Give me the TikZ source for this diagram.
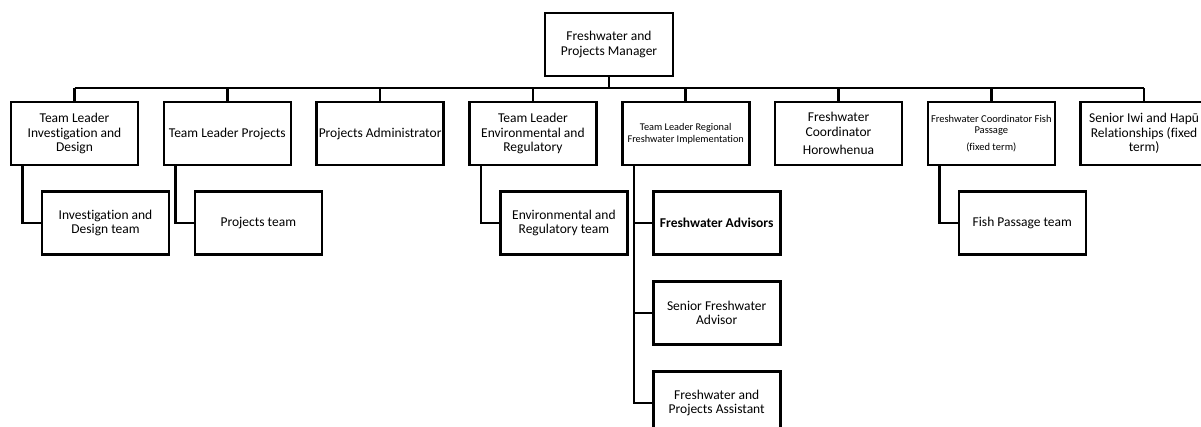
\documentclass[tikz,border=0pt]{standalone}
\usepackage{fontspec}
\setmainfont{Carlito}[Ligatures=CommonOff]
\usetikzlibrary{calc,positioning}

\begin{document}
\begin{tikzpicture}[x=1pt,y=-1pt,
  box/.style={draw,line width=2.6pt,rectangle,align=center,inner sep=0pt,minimum width=127pt,minimum height=63pt,font=\fontsize{13.5}{14.5}\selectfont},
  small/.style={font=\fontsize{10.3}{12.3}\selectfont},
  link/.style={line width=2.6pt}]
  \useasboundingbox (0,0) rectangle (1201,426);
  \clip (0,0) rectangle (1201,426);
  \node[box,minimum width=128pt] (m) at (609,44.5) {Freshwater and\\Projects Manager};
  \coordinate (bus) at (0,88);

  \node[box] (t1) at (74.5,133.5) {Team Leader\\Investigation and\\Design};
  \node[box] (t2) at (227.3,133.5) {Team Leader Projects};
  \node[box] (t3) at (380.1,133.5) {Projects Administrator};
  \node[box] (t4) at (532.9,133.5) {Team Leader\\Environmental and\\Regulatory};
  \node[box,small] (t5) at (685.7,133.5) {Team Leader Regional\\Freshwater Implementation};
  \node[box] (t6) at (838.5,133.5) {Freshwater\\Coordinator\\[4pt]Horowhenua};
  \node[box,font=\fontsize{10.5}{11.5}\selectfont] (t7) at (991.3,133.5) {Freshwater Coordinator Fish\\Passage\\[5pt](fixed term)};
  \node[box] (t8) at (1144.1,133.5) {Senior Iwi and Hapū\\Relationships (fixed\\term)};

  \node[box] (c1) at (105.5,223) {Investigation and\\Design team};
  \node[box] (c2) at (258.3,223) {Projects team};
  \node[box] (c4) at (563.9,223) {Environmental and\\Regulatory team};
  \node[box] (c5a) at (716.7,223) {\textbf{Freshwater Advisors}};
  \node[box] (c5b) at (716.7,313) {Senior Freshwater\\Advisor};
  \node[box] (c5c) at (716.7,403) {Freshwater and\\Projects Assistant};
  \node[box] (c7) at (1022.3,223) {Fish Passage team};

  \draw[link] (m.south) -- (m.south |- bus);
  \draw[link] (t1.north |- bus) -- (t8.north |- bus);
  \draw[link] (t1.north) -- (t1.north |- bus);
  \draw[link] (t2.north) -- (t2.north |- bus);
  \draw[link] (t3.north) -- (t3.north |- bus);
  \draw[link] (t4.north) -- (t4.north |- bus);
  \draw[link] (t5.north) -- (t5.north |- bus);
  \draw[link] (t6.north) -- (t6.north |- bus);
  \draw[link] (t7.north) -- (t7.north |- bus);
  \draw[link] (t8.north) -- (t8.north |- bus);

  \draw[link] ([xshift=13pt]t1.south west) |- (c1.west);
  \draw[link] ([xshift=13pt]t2.south west) |- (c2.west);
  \draw[link] ([xshift=13pt]t4.south west) |- (c4.west);
  \draw[link] ([xshift=13pt]t5.south west) |- (c5c.west);
  \draw[link] (c5a.west) -- ++(-18,0);
  \draw[link] (c5b.west) -- ++(-18,0);
  \draw[link] ([xshift=13pt]t7.south west) |- (c7.west);
\end{tikzpicture}
\end{document}
